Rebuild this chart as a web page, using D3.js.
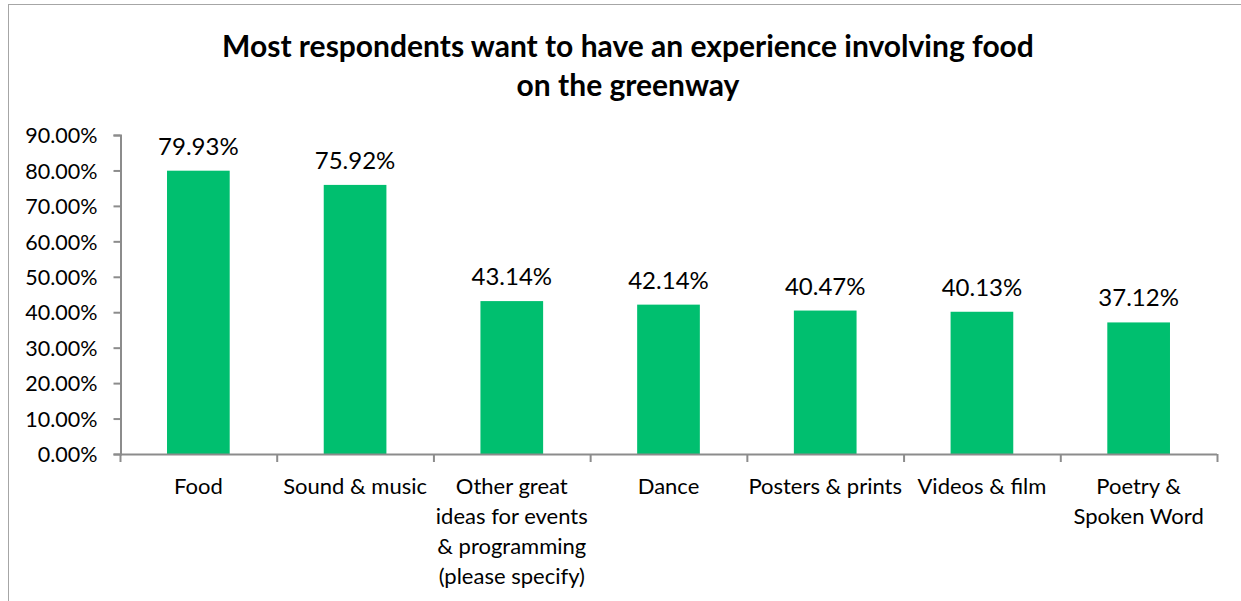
<!DOCTYPE html>
<html>
<head>
<meta charset="utf-8">
<script src="https://cdn.jsdelivr.net/npm/d3@7"></script>
<style>
  body { margin: 0; background: #fff; }
  text { font-family: Lato, "Open Sans", sans-serif; fill: #000; }
</style>
</head>
<body>
<div class="svg-container"></div>
<script>
// chart data (label line breaks as shown on the chart)
let categories = ["Food", "Sound & music", "Other great\nideas for events\n& programming\n(please specify)",
                  "Dance", "Posters & prints", "Videos & film", "Poetry &\nSpoken Word"];
let shares = [79.93, 75.92, 43.14, 42.14, 40.47, 40.13, 37.12];
let yTicks = [0, 10, 20, 30, 40, 50, 60, 70, 80, 90];
let titleLines = ["Most respondents want to have an experience involving food", "on the greenway"];

let width = 1241;
let height = 601;
let barColor = "#00BF6F";
let axisColor = "#8c8c8c";

let svg = d3.select(".svg-container")
    .append("svg")
    .attr("width", width)
    .attr("height", height);

// outer chart border (runs off the right and bottom like the source)
svg.append("rect")
    .attr("x", 8.5).attr("y", 4.5)
    .attr("width", 1260).attr("height", 620)
    .attr("fill", "none")
    .attr("stroke", "#a6a6a6")
    .attr("stroke-width", 1);

// title
svg.append("g").selectAll("text")
    .data(titleLines)
    .enter()
    .append("text")
    .attr("x", 628)
    .attr("y", (d, i) => 57 + i * 39)
    .attr("text-anchor", "middle")
    .style("font-size", "30px")
    .style("font-weight", "bold")
    .text(d => d);

let x = d3.scaleBand()
    .domain(categories)
    .range([120, 1217])
    .paddingInner(0.6)
    .paddingOuter(0.3);

let y = d3.scaleLinear()
    .domain([0, 90])
    .range([454, 135]);

// y axis
let yAxis = svg.append("g")
    .attr("transform", "translate(120.5,0)")
    .call(d3.axisLeft(y).tickValues(yTicks).tickSize(7).tickPadding(16)
        .tickFormat(d => d.toFixed(2) + "%"));
yAxis.select(".domain").attr("stroke", axisColor).attr("stroke-width", 2);
yAxis.selectAll(".tick line").attr("stroke", axisColor).attr("stroke-width", 2);
yAxis.selectAll(".tick text").style("font-size", "21.5px").attr("dy", "0.36em");

// bars
svg.append("g").selectAll("rect")
    .data(shares)
    .enter()
    .append("rect")
    .attr("x", (d, i) => x(categories[i]))
    .attr("y", d => y(d))
    .attr("width", x.bandwidth())
    .attr("height", d => y(0) - y(d))
    .attr("fill", barColor);

// value labels
svg.append("g").selectAll("text")
    .data(shares)
    .enter()
    .append("text")
    .attr("x", (d, i) => x(categories[i]) + x.bandwidth() / 2)
    .attr("y", d => y(d) - 16)
    .attr("text-anchor", "middle")
    .style("font-size", "24px")
    .text(d => d.toFixed(2) + "%");

// x axis line and category ticks
let step = x.step();
let xAxis = svg.append("g");
xAxis.append("line")
    .attr("x1", 120).attr("x2", 1217)
    .attr("y1", 454.5).attr("y2", 454.5)
    .attr("stroke", axisColor).attr("stroke-width", 2);
xAxis.selectAll(".xtick")
    .data(d3.range(categories.length + 1))
    .enter()
    .append("line")
    .attr("x1", i => 120.5 + i * step)
    .attr("x2", i => 120.5 + i * step)
    .attr("y1", 454).attr("y2", 462)
    .attr("stroke", axisColor).attr("stroke-width", 2);

// category labels
xAxis.selectAll(".xlabel")
    .data(categories)
    .enter()
    .append("text")
    .attr("text-anchor", "middle")
    .style("font-size", "22px")
    .each(function(d) {
        let el = d3.select(this);
        let cx = x(d) + x.bandwidth() / 2;
        d.split("\n").forEach((l, i) => {
            el.append("tspan")
                .attr("x", cx)
                .attr("y", 494 + i * 30)
                .text(l);
        });
    });
</script>
</body>
</html>
